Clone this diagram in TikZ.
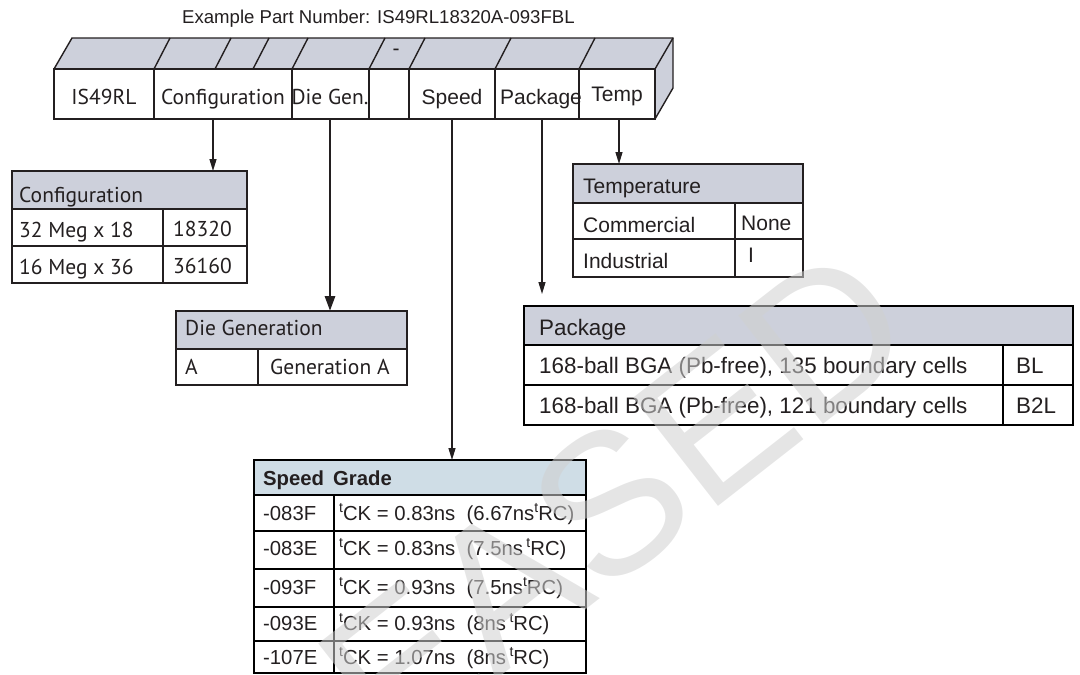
\documentclass[tikz,border=0pt]{standalone}
\usepackage{fontspec}
\setmainfont{Liberation Sans}
\newfontfamily\myr{PT Sans}
\usetikzlibrary{arrows.meta}
\definecolor{ink}{HTML}{231F20}
\definecolor{hdrgray}{HTML}{CDD0DB}
\definecolor{hdrblue}{HTML}{CFDDE6}
\definecolor{wmark}{HTML}{D0D0D0}
\newcommand{\myfs}[1]{\fontsize{#1}{#1}\selectfont}
\newcommand{\tsup}{\raisebox{0.38em}{\myfs{14}t}}
\begin{document}
\begin{tikzpicture}[x=1pt,y=-1pt,
  strip/.style={draw=ink,line width=1.4pt,line join=miter},
  tline/.style={draw=ink,line width=1.3pt},
  bline/.style={draw=black,line width=2pt},
  pline/.style={draw=black,line width=2.4pt},
  lb/.style={inner sep=0pt,anchor=base west,text=ink},
  lbc/.style={inner sep=0pt,anchor=base,text=ink},
  hole/.style={inner sep=0pt,outer sep=0pt,anchor=north west},
  arr/.style={draw=ink,line width=1.3pt,-{Triangle[length=12pt,width=7pt]}},
  arrb/.style={draw=ink,line width=2.8pt,-{Triangle[length=15pt,width=10pt]}},
  myrf/.style={font=\myr\myfs{21.5}},
  arf/.style={font=\myfs{21}},
]
\useasboundingbox (0,0) rectangle (1080,675);

% title
\node[lb,font=\myfs{18.6}] (title) at (182,23) {Example Part Number: IS49RL18320A-093FBL};

% header strip
\fill[hdrgray] (54,69) -- (72,38) -- (673,38) -- (673,88) -- (655,119) -- (655,69) -- cycle;
\draw[strip] (54,69) -- (72,38) -- (673,38) -- (673,88) -- (655,119);
\draw[strip] (655,69) -- (673,38);
\foreach \x in {154,215,253,292,369,409,495,579} \draw[strip] (\x,69) -- ++(16,-31);
\draw[strip,fill=white] (54,69) rectangle (655,119);
\foreach \x in {154,292,369,409,495,579} \draw[strip] (\x,69) -- (\x,119);
\node[lbc,arf] (dash) at (396,55) {-};

% header cells (named areas)
\node[hole,minimum width=100pt,minimum height=50pt] (cIS) at (54,69) {};
\node[hole,minimum width=138pt,minimum height=50pt] (cCfg) at (154,69) {};
\node[hole,minimum width=77pt,minimum height=50pt] (cDie) at (292,69) {};
\node[hole,minimum width=85pt,minimum height=50pt] (cSpd) at (410,69) {};
\node[hole,minimum width=84pt,minimum height=50pt] (cPkg) at (495,69) {};
\node[hole,minimum width=76pt,minimum height=50pt] (cTmp) at (579,69) {};

\node[lbc,myrf] (tIS) at (104,104) {IS49RL};
\node[lbc,myrf] (tCfg) at (223,104) {Configuration};
\node[lbc,myrf] (tDie) at (330,104) {Die Gen.};
\node[lbc,arf] (tSpd) at (452,104) {Speed};
\node[lbc,arf] (tPkg) at (541,104) {Package};
\node[lbc,arf] (tTmp) at (617,101.5) {Temp};

% ---------- Configuration table
\fill[hdrgray] (12,171) rectangle (247,209);
\draw[tline] (12,209) -- (247,209) (12,246) -- (247,246) (163,209) -- (163,283);
\node[hole,draw=ink,line width=1.3pt,minimum width=235pt,minimum height=112pt] (cfg) at (12,171) {};
\node[lb,myrf] (cfgH) at (19,202) {Configuration};
\node[lb,myrf] (cfg11) at (19,237) {32 Meg x 18};
\node[lb,myrf] (cfg12) at (173,236) {18320};
\node[lb,myrf] (cfg21) at (19,274) {16 Meg x 36};
\node[lb,myrf] (cfg22) at (173,273) {36160};

% ---------- Die Generation table
\fill[hdrgray] (176,311) rectangle (407,349);
\draw[tline] (176,349) -- (407,349) (258,349) -- (258,385);
\node[hole,draw=ink,line width=1.3pt,minimum width=231pt,minimum height=74pt] (die) at (176,311) {};
\node[lb,myrf] (dieH) at (185,335) {Die Generation};
\node[lb,myrf] (die11) at (185,374) {A};
\node[lb,myrf] (die12) at (270,374) {Generation A};

% ---------- Temperature table
\fill[hdrgray] (573,164) rectangle (803,203);
\draw[tline] (573,203) -- (803,203) (573,239) -- (803,239) (735,203) -- (735,277);
\node[hole,draw=ink,line width=1.3pt,minimum width=230pt,minimum height=113pt] (tmp) at (573,164) {};
\node[lb,arf] (tmpH) at (583,193) {Temperature};
\node[lb,arf] (tmp11) at (583,232) {Commercial};
\node[lb,arf] (tmp12) at (741,230) {None};
\node[lb,arf] (tmp21) at (583,268) {Industrial};
\node[lb,arf] (tmp22) at (748,262) {I};

% ---------- Package table
\fill[hdrgray] (524,306) rectangle (1073,345);
\draw[pline] (524,345) -- (1073,345) (524,385) -- (1073,385) (1003,345) -- (1003,425);
\node[hole,draw=black,line width=2.4pt,minimum width=549pt,minimum height=119pt] (pkg) at (524,306) {};
\node[lb,font=\myfs{22.4}] (pkgH) at (539,335) {Package};
\node[lb,font=\myfs{22.4}] (pkg11) at (539,373) {168-ball BGA (Pb-free), 135 boundary cells};
\node[lb,font=\myfs{22.4}] (pkg12) at (1016,373) {BL};
\node[lb,font=\myfs{22.4}] (pkg21) at (539,413) {168-ball BGA (Pb-free), 121 boundary cells};
\node[lb,font=\myfs{22.4}] (pkg22) at (1016,413) {B2L};

% ---------- Speed Grade table
\fill[hdrblue] (254,460) rectangle (586,495);
\draw[bline] (254,495) -- (586,495) (254,531) -- (586,531) (254,569) -- (586,569)
             (254,607) -- (586,607) (254,641) -- (586,641) (334,495) -- (334,673);
\node[hole,draw=black,line width=2pt,minimum width=332pt,minimum height=213pt] (spd) at (254,460) {};
\node[lb,font=\bfseries\myfs{20.3}] (spdH) at (263,485) {Speed\, Grade};
\begin{scope}[every node/.style={lb,font=\myfs{20.3}}]
\node (s1a) at (263,520) {-083F};
\node (s1b) at (339,520) {\tsup CK = 0.83ns\ \ (6.67ns\tsup RC)};
\node (s2a) at (263,555) {-083E};
\node (s2b) at (339,555) {\tsup CK = 0.83ns\ \ (7.5ns\,\tsup RC)};
\node (s3a) at (263,594) {-093F};
\node (s3b) at (339,594) {\tsup CK = 0.93ns\ \ (7.5ns\tsup RC)};
\node (s4a) at (263,630) {-093E};
\node (s4b) at (339,630) {\tsup CK = 0.93ns\ \ (8ns\,\tsup RC)};
\node (s5a) at (263,664) {-107E};
\node (s5b) at (339,664) {\tsup CK = 1.07ns\ \ (8ns\,\tsup RC)};
\end{scope}

% ---------- connectors
\coordinate (xa) at (213,0);
\coordinate (xb) at (330,0);
\coordinate (xc) at (452,0);
\coordinate (xd) at (542,0);
\coordinate (xe) at (619,0);
\draw[arr] (cCfg.south -| xa) -- (cfg.north -| xa);
\draw[arrb] (cDie.south -| xb) -- (die.north -| xb);
\draw[arr] (cSpd.south -| xc) -- (spd.north -| xc);
\draw[arr] (cPkg.south -| xd) -- ([yshift=12pt]pkg.north -| xd);
\draw[arr] (cTmp.south -| xe) -- (tmp.north -| xe);

% ---------- watermark
\begin{scope}
\clip (0,0) rectangle (1080,675);
\node[inner sep=0pt,rotate=38,text=wmark,text opacity=0.55,font=\myfs{200}] (wm) at (615,500) {EASED};
\end{scope}
\end{tikzpicture}
\end{document}
